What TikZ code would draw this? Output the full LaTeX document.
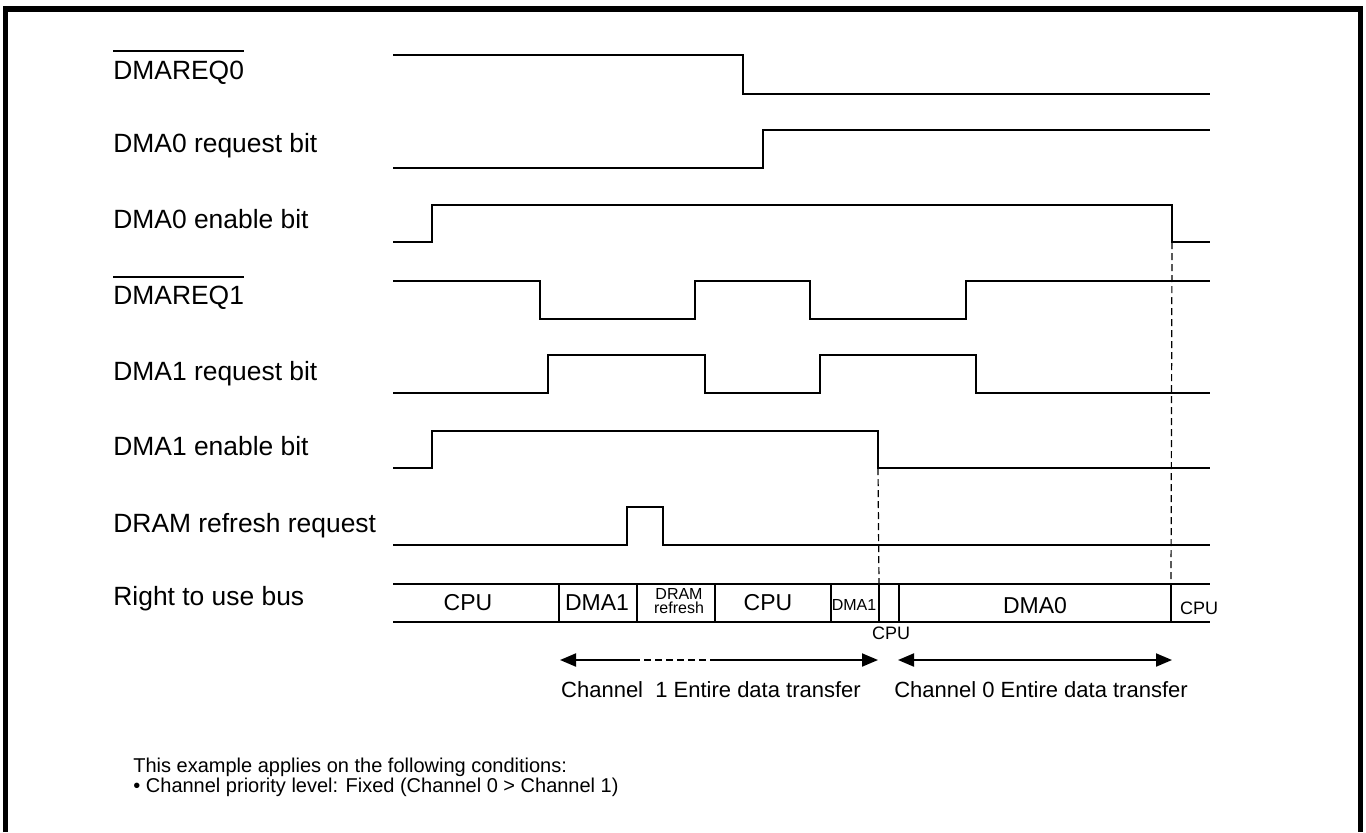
\documentclass[tikz,border=0pt]{standalone}
\usepackage{fontspec}
\setmainfont{Liberation Sans}
\usetikzlibrary{arrows.meta}
\tikzset{
  sig/.style={line width=1.4pt, line join=miter},
  busln/.style={line width=1pt},
  dashln/.style={line width=0.6pt, dash pattern=on 3.5pt off 2pt},
  lbl/.style={anchor=base west, inner sep=0pt, font=\fontsize{13.2}{15}\selectfont},
  buslbl/.style={inner sep=0pt, font=\fontsize{11.5}{13}\selectfont},
  tinylbl/.style={inner sep=0pt, font=\fontsize{8}{9}\selectfont},
  chlbl/.style={anchor=base, inner sep=0pt, font=\fontsize{11}{13}\selectfont},
  note/.style={anchor=base west, inner sep=0pt, font=\fontsize{10}{12}\selectfont},
  tip/.style={line width=1pt},
  >={Triangle[length=8pt,width=6.5pt]}
}

\begin{document}
\begin{tikzpicture}[x=0.5pt, y=-0.5pt]
  \useasboundingbox (0,0) rectangle (1366,832);
  % frame
  \draw[line width=2.6pt] (5.5,832) -- (5.5,9) -- (1360.5,9) -- (1360.5,832);

  % signal names
  \node[lbl] (rq0) at (113,79) {DMAREQ0};
  \node[lbl] (rb0) at (113,152) {DMA0 request bit};
  \node[lbl] (en0) at (113,228) {DMA0 enable bit};
  \node[lbl] (rq1) at (113,304) {DMAREQ1};
  \node[lbl] (rb1) at (113,380) {DMA1 request bit};
  \node[lbl] (en1) at (113,455) {DMA1 enable bit};
  \node[lbl] (rfr) at (113,532) {DRAM refresh request};
  \node[lbl] (rub) at (113,605) {Right to use bus};
  \draw[line width=0.8pt] ([yshift=4.5pt]rq0.north west) -- ([yshift=4.5pt]rq0.north east);
  \draw[line width=0.8pt] ([yshift=4pt]rq1.north west) -- ([yshift=4pt]rq1.north east);

  % waveforms
  \draw[sig] (393,55) -- (743,55) -- (743,94) -- (1210,94);
  \draw[sig] (393,168) -- (763,168) -- (763,130) -- (1210,130);
  \draw[sig] (393,242) -- (432,242) -- (432,205) -- (1172,205) -- (1172,242) -- (1210,242);
  \draw[sig] (393,281) -- (540,281) -- (540,319) -- (695,319) -- (695,281) -- (810,281)
    -- (810,319) -- (966,319) -- (966,281) -- (1210,281);
  \draw[sig] (393,393) -- (548,393) -- (548,355) -- (705,355) -- (705,393) -- (820,393)
    -- (820,355) -- (976,355) -- (976,393) -- (1210,393);
  \draw[sig] (393,468) -- (432,468) -- (432,431) -- (878,431) -- (878,468) -- (1210,468);
  \draw[sig] (393,545) -- (627,545) -- (627,507) -- (663,507) -- (663,545) -- (1210,545);

  % bus ownership
  \coordinate (e1) at (878,468);
  \coordinate (e0) at (1172,242);
  \coordinate (d1) at (559,584);
  \coordinate (d2) at (637,584);
  \coordinate (d3) at (715,584);
  \coordinate (d4) at (831,584);
  \coordinate (d5) at (879,584);
  \coordinate (d6) at (899,584);
  \coordinate (d7) at (1171,584);
  \draw[busln] (393,584) -- (1210,584);
  \draw[busln] (393,622) -- (1210,622);
  \foreach \d in {d1,d2,d3,d4,d5,d6,d7}
    \draw[busln] (\d) -- ++(0,38);
  \node[buslbl] (b1) at (468,603) {CPU};
  \node[buslbl] (b2) at (597,603) {DMA1};
  \node[tinylbl, align=center, font=\fontsize{8}{7.2}\selectfont] (b3) at (679,601) {DRAM\\refresh};
  \node[buslbl] (b4) at (768,603) {CPU};
  \node[tinylbl] (b5) at (854,605) {DMA1};
  \node[tinylbl, font=\fontsize{9}{10}\selectfont] (b6) at (891,633) {CPU};
  \node[buslbl] (b7) at (1035,606) {DMA0};
  \node[tinylbl, font=\fontsize{9}{10}\selectfont] (b8) at (1199,608) {CPU};

  % end of transfer
  \draw[dashln] (e1) -- (d5);
  \draw[dashln] (e0) -- (d7);

  % transfer spans
  \coordinate (c1a) at (560,660);
  \coordinate (c1b) at (633,660);
  \coordinate (c1c) at (715,660);
  \coordinate (c1d) at (878,660);
  \coordinate (c0a) at (898,660);
  \coordinate (c0b) at (1172,660);
  \draw[tip, <-] (c1a) -- (c1b);
  \draw[dashln] (c1b) -- (c1c);
  \draw[tip, ->] (c1c) -- (c1d);
  \draw[tip, <->] (c0a) -- (c0b);
  \node[chlbl] (ch1) at (711,697) {Channel\ \ 1 Entire data transfer};
  \node[chlbl] (ch0) at (1041,697) {Channel 0 Entire data transfer};

  % conditions
  \node[note] (n1) at (133,772) {This example applies on the following conditions:};
  \node[note] (n2) at (133,792) {\textbullet\ Channel priority level: Fixed (Channel 0 > Channel 1)};
\end{tikzpicture}
\end{document}
